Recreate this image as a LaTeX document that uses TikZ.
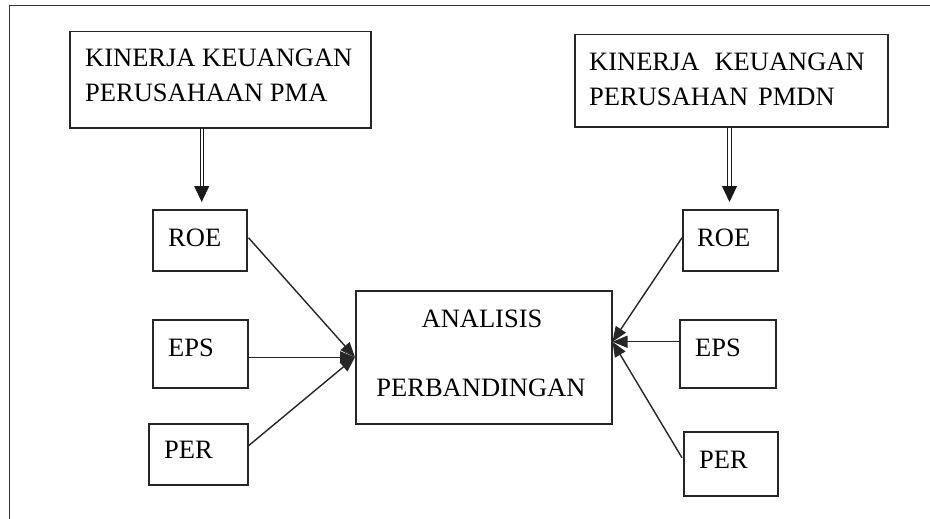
\documentclass[tikz,border=0pt]{standalone}
\usepackage{fontspec}
\setmainfont{Liberation Serif}
\usetikzlibrary{arrows.meta,calc}
\begin{document}
\begin{tikzpicture}[x=1pt,y=-1pt,
  box/.style={draw=black!85, line width=1.5pt, inner sep=0pt, anchor=north west},
  txt/.style={inner sep=0pt, font=\fontsize{26.5}{35}\selectfont},
  conn/.style={draw=black!85, line width=1.4pt, -{Triangle[width=12pt,length=15pt]}},
  dbl/.style={draw=black!90, double=white, double distance=2.4pt, line width=1pt, -{Triangle[width=15pt,length=16pt]}}]
\useasboundingbox (0,0) rectangle (930,519);
% frame (runs off the right and bottom edges)
\draw[black!80, line width=1.8pt] (9.5,5.5) rectangle (945,535);
% boxes
\node[box, minimum width=301pt, minimum height=96pt] (pma) at (69,31) {};
\node[box, minimum width=313pt, minimum height=92pt] (pmdn) at (574,34) {};
\node[box, minimum width=94pt, minimum height=61pt] (roeL) at (152,209) {};
\node[box, minimum width=95pt, minimum height=68pt] (epsL) at (152,319) {};
\node[box, minimum width=99pt, minimum height=61pt] (perL) at (148,423) {};
\node[box, minimum width=256pt, minimum height=133pt] (ana) at (355,290) {};
\node[box, minimum width=95pt, minimum height=61pt] (roeR) at (682,209) {};
\node[box, minimum width=96pt, minimum height=68pt] (epsR) at (679,319) {};
\node[box, minimum width=94pt, minimum height=64pt] (perR) at (683,431) {};
% texts
\node[txt, anchor=base west] (pmaA) at (85,67) {KINERJA KEUANGAN};
\node[txt, anchor=base west] (pmaB) at (85,102) {PERUSAHAAN PMA};
\node[txt, anchor=base west] (pmdnA) at (589,70.5) {KINERJA\hspace{15pt}KEUANGAN};
\node[txt, anchor=base west] (pmdnB) at (589,105.5) {PERUSAHAN\hspace{10pt}PMDN};
\node[txt, anchor=base west] (roeLt) at (168,246) {ROE};
\node[txt, anchor=base west] (epsLt) at (168,356) {EPS};
\node[txt, anchor=base west] (perLt) at (164,458) {PER};
\node[txt, anchor=base west] (roeRt) at (697,246) {ROE};
\node[txt, anchor=base west] (epsRt) at (695,356) {EPS};
\node[txt, anchor=base west] (perRt) at (699,468) {PER};
\node[txt, anchor=base] (anaA) at (482,327) {ANALISIS};
\node[txt, anchor=base] (anaB) at (481,396) {PERBANDINGAN};
% arrow end points
\coordinate (dA) at (201.7,202);
\coordinate (dB) at (729.5,202);
\coordinate (cL) at (ana.west);
\coordinate (cR) at ($(ana.east)+(0,-15.5)$);
\coordinate (sRoeL) at ($(roeL.east)+(1,-2.5)$);
\coordinate (sEpsL) at (epsL.east |- cL);
\coordinate (sPerL) at ($(perL.east)+(0,-8.5)$);
\coordinate (sRoeR) at ($(roeR.west)+(0,-2.5)$);
\coordinate (sEpsR) at (epsR.west |- cR);
\coordinate (sPerR) at ($(perR.west)+(-1,-6)$);
% double arrows
\draw[dbl] (pma.south -| dA) -- (dA);
\draw[dbl] (pmdn.south -| dB) -- (dB);
% converging arrows
\draw[conn] (sRoeL) -- (cL);
\draw[conn] (sEpsL) -- (cL);
\draw[conn] (sPerL) -- (cL);
\draw[conn] (sRoeR) -- (cR);
\draw[conn] (sEpsR) -- (cR);
\draw[conn] (sPerR) -- (cR);
\end{tikzpicture}
\end{document}
